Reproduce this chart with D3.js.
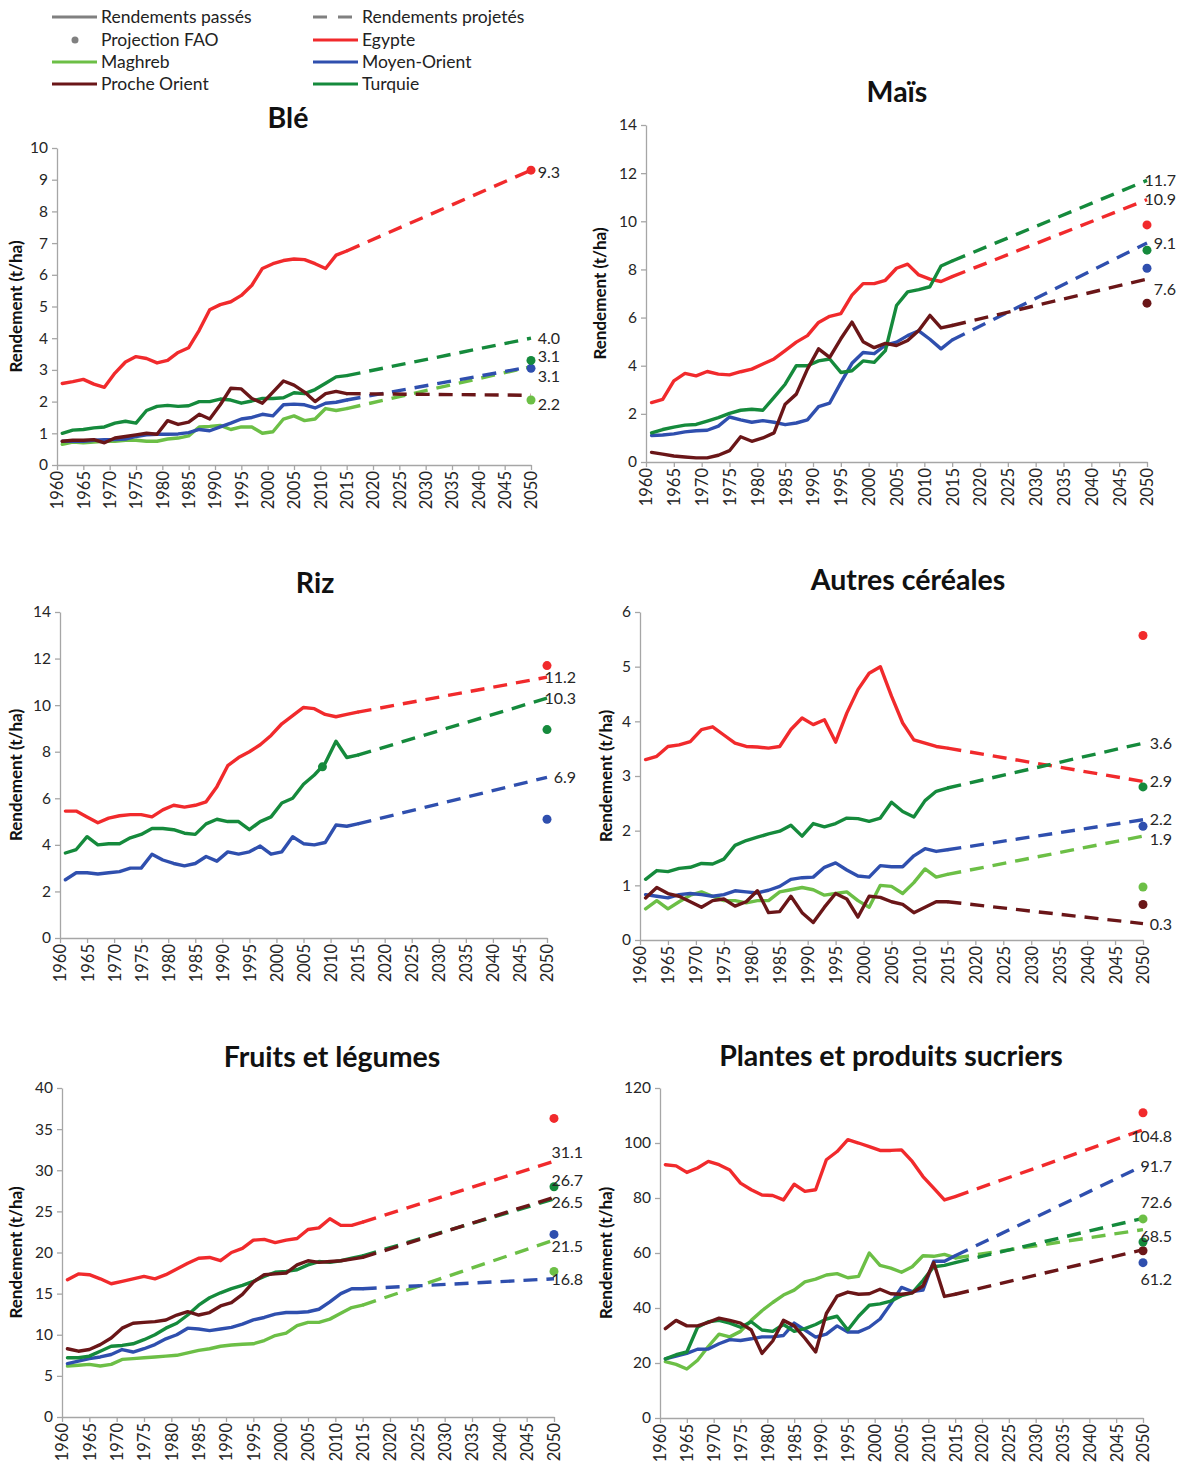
<!DOCTYPE html>
<html>
<head>
<meta charset="utf-8">
<script src="https://cdn.jsdelivr.net/npm/d3@7"></script>
<style>
  body { margin: 0; background: #fff; }
  svg text { font-family: Lato, "Open Sans", sans-serif; fill: #222; }
  .axis path, .axis line { stroke: #a6a6a6; stroke-width: 1.3; }
  .axis text { font-size: 15.5px; fill: #262626; }
  .x-axis text { font-size: 16.5px; }
  .panel-title { font-size: 28.5px; font-weight: 700; fill: #111; }
  .y-title { font-size: 17px; font-weight: 700; fill: #111; }
  .end-label { font-size: 16px; fill: #262626; }
  .legend text { font-size: 17.5px; fill: #222; }
</style>
</head>
<body>
<svg id="chart" width="1184" height="1468"></svg>
<script>
// regions, in the order used by every series array below
const regions = ['Egypte', 'Maghreb', 'Moyen-Orient', 'Proche Orient', 'Turquie'];
const regionColors = ['#f12a2c', '#6cbf46', '#2f4fae', '#6a1618', '#158a3c'];
const histYears = d3.range(1961, 2016, 2);
const projYear = 2050;
const yearTicks = d3.range(1960, 2051, 5);

// Blé
const bleTicks = [0, 1, 2, 3, 4, 5, 6, 7, 8, 9, 10];
const bleEgypte = [2.57, 2.63, 2.7, 2.55, 2.45, 2.9, 3.25, 3.42, 3.36, 3.22, 3.3, 3.55, 3.7, 4.25, 4.9, 5.06, 5.15, 5.35, 5.67, 6.2, 6.35, 6.45, 6.5, 6.48, 6.35, 6.2, 6.62, 6.75];
const bleMaghreb = [0.65, 0.72, 0.7, 0.72, 0.75, 0.75, 0.78, 0.78, 0.75, 0.75, 0.82, 0.85, 0.92, 1.2, 1.22, 1.25, 1.12, 1.2, 1.2, 1.0, 1.05, 1.45, 1.55, 1.4, 1.45, 1.78, 1.72, 1.78];
const bleMoyenOrient = [0.75, 0.75, 0.75, 0.78, 0.8, 0.8, 0.82, 0.9, 0.95, 0.97, 0.97, 0.98, 1.02, 1.12, 1.08, 1.2, 1.32, 1.45, 1.5, 1.6, 1.55, 1.9, 1.92, 1.9, 1.8, 1.95, 1.98, 2.05];
const bleProcheOrient = [0.75, 0.78, 0.78, 0.8, 0.7, 0.85, 0.9, 0.95, 1.0, 0.97, 1.4, 1.28, 1.35, 1.6, 1.45, 1.9, 2.42, 2.4, 2.1, 1.95, 2.3, 2.65, 2.52, 2.3, 2.0, 2.25, 2.32, 2.25];
const bleTurquie = [1.0, 1.1, 1.12, 1.17, 1.2, 1.32, 1.38, 1.32, 1.72, 1.85, 1.88, 1.85, 1.87, 2.0, 2.0, 2.08, 2.05, 1.95, 2.02, 2.1, 2.1, 2.12, 2.28, 2.25, 2.38, 2.58, 2.78, 2.82];
const bleProj = [9.3, 3.1, 3.1, 2.2, 4.0];
const bleFao = [9.3, 2.05, 3.05, null, 3.3];

// Maïs
const maisTicks = [0, 2, 4, 6, 8, 10, 12, 14];
const maisEgypte = [2.47, 2.6, 3.37, 3.68, 3.58, 3.76, 3.65, 3.62, 3.75, 3.86, 4.07, 4.28, 4.63, 4.98, 5.25, 5.8, 6.05, 6.16, 6.93, 7.41, 7.41, 7.55, 8.05, 8.22, 7.77, 7.6, 7.5, 7.7];
const maisMoyenOrient = [1.1, 1.12, 1.17, 1.25, 1.3, 1.32, 1.49, 1.87, 1.75, 1.65, 1.72, 1.65, 1.55, 1.62, 1.75, 2.3, 2.45, 3.3, 4.1, 4.55, 4.5, 4.85, 4.98, 5.25, 5.45, 5.1, 4.7, 5.07];
const maisProcheOrient = [0.4, 0.33, 0.25, 0.21, 0.17, 0.17, 0.28, 0.47, 1.05, 0.86, 1.0, 1.21, 2.4, 2.82, 3.86, 4.7, 4.35, 5.12, 5.81, 5.0, 4.75, 4.93, 4.84, 5.05, 5.46, 6.09, 5.57, 5.67];
const maisTurquie = [1.21, 1.35, 1.45, 1.53, 1.56, 1.7, 1.84, 2.02, 2.15, 2.19, 2.15, 2.68, 3.23, 4.0, 4.0, 4.2, 4.28, 3.72, 3.79, 4.2, 4.14, 4.63, 6.5, 7.07, 7.16, 7.28, 8.14, 8.35];
const maisProj = [10.9, null, 9.1, 7.6, 11.7];
const maisFao = [9.85, null, 8.05, 6.6, 8.8];

// Riz
const rizTicks = [0, 2, 4, 6, 8, 10, 12, 14];
const rizEgypte = [5.45, 5.45, 5.2, 4.95, 5.15, 5.25, 5.3, 5.3, 5.2, 5.5, 5.7, 5.62, 5.7, 5.85, 6.5, 7.4, 7.75, 8.0, 8.3, 8.7, 9.2, 9.55, 9.9, 9.85, 9.6, 9.5, 9.6, 9.7];
const rizMoyenOrient = [2.5, 2.8, 2.8, 2.75, 2.8, 2.85, 3.0, 3.0, 3.6, 3.35, 3.2, 3.1, 3.2, 3.5, 3.3, 3.7, 3.6, 3.7, 3.95, 3.6, 3.7, 4.35, 4.05, 4.0, 4.1, 4.85, 4.8, 4.9];
const rizTurquie = [3.65, 3.8, 4.35, 4.0, 4.05, 4.05, 4.3, 4.45, 4.7, 4.7, 4.65, 4.5, 4.45, 4.9, 5.1, 5.0, 5.0, 4.65, 5.0, 5.2, 5.8, 6.0, 6.6, 7.0, 7.5, 8.45, 7.75, 7.85];
const rizProj = [11.2, null, 6.9, null, 10.3];
const rizFao = [11.7, null, 5.1, null, 8.95];
const rizExtraDot = [2008.5, 7.35]; // Turquie marker on the past curve

// Autres céréales
const autresTicks = [0, 1, 2, 3, 4, 5, 6];
const autresEgypte = [3.3, 3.36, 3.54, 3.57, 3.63, 3.85, 3.9, 3.75, 3.6, 3.54, 3.53, 3.51, 3.54, 3.85, 4.06, 3.94, 4.03, 3.62, 4.15, 4.58, 4.88, 5.0, 4.46, 3.97, 3.66, 3.6, 3.54, 3.51];
const autresMaghreb = [0.57, 0.72, 0.57, 0.7, 0.82, 0.88, 0.8, 0.72, 0.72, 0.68, 0.72, 0.72, 0.88, 0.92, 0.96, 0.92, 0.82, 0.85, 0.88, 0.72, 0.6, 1.0, 0.98, 0.85, 1.05, 1.3, 1.15, 1.2];
const autresMoyenOrient = [0.83, 0.8, 0.77, 0.83, 0.85, 0.83, 0.8, 0.83, 0.9, 0.88, 0.86, 0.91, 0.98, 1.11, 1.14, 1.15, 1.33, 1.41, 1.28, 1.17, 1.15, 1.36, 1.34, 1.34, 1.54, 1.67, 1.62, 1.65];
const autresProcheOrient = [0.77, 0.96, 0.85, 0.8, 0.7, 0.6, 0.72, 0.75, 0.62, 0.7, 0.9, 0.5, 0.52, 0.8, 0.5, 0.32, 0.6, 0.85, 0.75, 0.42, 0.8, 0.78, 0.7, 0.65, 0.5, 0.6, 0.7, 0.7];
const autresTurquie = [1.11, 1.27, 1.25, 1.31, 1.33, 1.4, 1.39, 1.48, 1.73, 1.82, 1.88, 1.94, 1.99, 2.1, 1.9, 2.13, 2.07, 2.13, 2.23, 2.22, 2.17, 2.23, 2.52, 2.35, 2.25, 2.55, 2.72, 2.78];
const autresProj = [2.9, 1.9, 2.2, 0.3, 3.6];
const autresFao = [5.57, 0.97, 2.08, 0.65, 2.8];

// Fruits et légumes
const fruitsTicks = [0, 5, 10, 15, 20, 25, 30, 35, 40];
const fruitsEgypte = [16.7, 17.4, 17.3, 16.8, 16.2, 16.5, 16.8, 17.1, 16.8, 17.3, 18.0, 18.7, 19.3, 19.4, 19.0, 20.0, 20.5, 21.5, 21.6, 21.2, 21.5, 21.7, 22.8, 23.0, 24.1, 23.3, 23.3, 23.7];
const fruitsMaghreb = [6.2, 6.3, 6.4, 6.2, 6.4, 7.0, 7.1, 7.2, 7.3, 7.4, 7.5, 7.8, 8.1, 8.3, 8.6, 8.75, 8.85, 8.9, 9.3, 9.9, 10.2, 11.1, 11.5, 11.5, 11.9, 12.6, 13.3, 13.6];
const fruitsMoyenOrient = [6.5, 6.8, 7.1, 7.3, 7.6, 8.2, 7.9, 8.3, 8.8, 9.5, 10.0, 10.8, 10.7, 10.5, 10.7, 10.9, 11.3, 11.8, 12.1, 12.5, 12.7, 12.7, 12.8, 13.1, 14.0, 15.0, 15.6, 15.6];
const fruitsProcheOrient = [8.3, 8.0, 8.2, 8.8, 9.6, 10.8, 11.4, 11.5, 11.6, 11.8, 12.4, 12.8, 12.4, 12.7, 13.5, 13.9, 14.9, 16.4, 17.3, 17.4, 17.5, 18.5, 19.0, 18.8, 18.9, 19.0, 19.2, 19.4];
const fruitsTurquie = [7.2, 7.2, 7.4, 8.0, 8.6, 8.7, 8.9, 9.4, 10.0, 10.8, 11.4, 12.4, 13.6, 14.5, 15.1, 15.6, 16.0, 16.5, 17.1, 17.6, 17.7, 17.9, 18.5, 18.9, 18.8, 19.0, 19.3, 19.6];
const fruitsProj = [31.1, 21.5, 16.8, 26.7, 26.5];
const fruitsFao = [36.3, 17.7, 22.2, null, 28.0];

// Plantes et produits sucriers
const sucreTicks = [0, 20, 40, 60, 80, 100, 120];
const sucreEgypte = [92.1, 91.7, 89.3, 90.9, 93.3, 92.1, 90.2, 85.4, 83.0, 81.1, 80.9, 79.3, 85.0, 82.4, 83.0, 93.9, 96.9, 101.2, 100.0, 98.7, 97.3, 97.3, 97.5, 93.3, 87.8, 83.6, 79.3, 80.5];
const sucreMaghreb = [20.5, 19.5, 17.8, 21.0, 26.0, 30.5, 29.5, 31.5, 35.5, 39.0, 42.0, 44.7, 46.5, 49.5, 50.5, 52.0, 52.5, 51.0, 51.5, 60.0, 55.5, 54.5, 53.0, 55.0, 59.0, 58.8, 59.5, 58.2];
const sucreMoyenOrient = [21.5, 22.5, 23.5, 25.0, 25.1, 27.0, 28.5, 28.2, 28.8, 29.5, 29.5, 30.0, 34.5, 32.0, 29.4, 30.5, 33.5, 31.3, 31.3, 33.0, 36.0, 41.5, 47.5, 46.0, 46.5, 57.0, 57.0, 59.0];
const sucreProcheOrient = [32.5, 35.5, 33.5, 33.5, 34.8, 36.3, 35.5, 34.5, 32.0, 23.5, 28.0, 35.5, 33.5, 29.0, 24.0, 38.0, 44.3, 45.8, 45.0, 45.2, 46.8, 45.2, 45.0, 45.5, 48.0, 56.5, 44.2, 45.0];
const sucreTurquie = [21.5, 23.0, 24.0, 33.0, 35.0, 35.5, 34.5, 33.0, 35.0, 32.0, 31.5, 34.0, 31.5, 32.5, 34.0, 36.0, 37.0, 32.0, 37.0, 41.0, 41.5, 42.5, 44.5, 45.5, 50.0, 55.0, 55.5, 56.5];
const sucreProj = [104.8, 68.5, 91.7, 61.2, 72.6];
const sucreFao = [111.0, 72.4, 56.5, 60.8, 64.0];

const panels = [
  {title: 'Blé', ticks: bleTicks, series: [bleEgypte, bleMaghreb, bleMoyenOrient, bleProcheOrient, bleTurquie], proj: bleProj, fao: bleFao},
  {title: 'Maïs', ticks: maisTicks, series: [maisEgypte, null, maisMoyenOrient, maisProcheOrient, maisTurquie], proj: maisProj, fao: maisFao},
  {title: 'Riz', ticks: rizTicks, series: [rizEgypte, null, rizMoyenOrient, null, rizTurquie], proj: rizProj, fao: rizFao, extra: [{region: 4, pt: rizExtraDot}]},
  {title: 'Autres céréales', ticks: autresTicks, series: [autresEgypte, autresMaghreb, autresMoyenOrient, autresProcheOrient, autresTurquie], proj: autresProj, fao: autresFao},
  {title: 'Fruits et légumes', ticks: fruitsTicks, series: [fruitsEgypte, fruitsMaghreb, fruitsMoyenOrient, fruitsProcheOrient, fruitsTurquie], proj: fruitsProj, fao: fruitsFao},
  {title: 'Plantes et produits sucriers', ticks: sucreTicks, series: [sucreEgypte, sucreMaghreb, sucreMoyenOrient, sucreProcheOrient, sucreTurquie], proj: sucreProj, fao: sucreFao}
];

// page layout of each panel (pixels) and small vertical nudges of the end labels
const layouts = [
  {left: 57, right: 531, top: 148, bottom: 465, titleX: 288, titleY: 118, yTitleX: 16, labelDy: [2, 10, -10, 9, 0]},
  {left: 646, right: 1147, top: 125, bottom: 462, titleX: 897, titleY: 92, yTitleX: 600, labelDy: [0, 0, 0, 10, 0]},
  {left: 60, right: 547, top: 612, bottom: 938, titleX: 315, titleY: 583, yTitleX: 16, labelDy: [0, 0, 0, 0, 0]},
  {left: 640, right: 1143, top: 612, bottom: 940, titleX: 908, titleY: 580, yTitleX: 606, labelDy: [0, 3, 0, 1, 0]},
  {left: 62, right: 554, top: 1088, bottom: 1417, titleX: 332, titleY: 1057, yTitleX: 16, labelDy: [-9, 6, 1, -17, 3]},
  {left: 660, right: 1143, top: 1088, bottom: 1418, titleX: 891, titleY: 1056, yTitleX: 606, labelDy: [7, 7, 1, 30, -16]}
];

const drawOrder = [0, 1, 2, 4, 3];
const svg = d3.select('#chart');

function drawPanel(p, L) {
  const x = d3.scaleLinear().domain([1960, projYear]).range([L.left, L.right]);
  const y = d3.scaleLinear().domain([0, d3.max(p.ticks)]).range([L.bottom, L.top]);
  const g = svg.append('g');

  g.append('text').attr('class', 'panel-title')
    .attr('x', L.titleX).attr('y', L.titleY).attr('dy', '0.35em')
    .attr('text-anchor', 'middle').text(p.title);

  g.append('text').attr('class', 'y-title')
    .attr('transform', `translate(${L.yTitleX},${(L.top + L.bottom) / 2}) rotate(-90)`)
    .attr('text-anchor', 'middle').attr('dy', '0.35em')
    .text('Rendement (t/ha)');

  const xAxisG = g.append('g').attr('class', 'axis x-axis')
    .attr('transform', `translate(0,${L.bottom})`)
    .call(d3.axisBottom(x).tickValues(yearTicks).tickSize(5).tickSizeOuter(0).tickFormat(d3.format('d')));
  xAxisG.selectAll('text')
    .attr('transform', 'rotate(-90)')
    .attr('text-anchor', 'end')
    .attr('x', -6).attr('y', 0).attr('dy', '0.36em');

  g.append('g').attr('class', 'axis y-axis')
    .attr('transform', `translate(${L.left},0)`)
    .call(d3.axisLeft(y).tickValues(p.ticks).tickSize(5).tickSizeOuter(0).tickPadding(4).tickFormat(d3.format('d')));

  const line = d3.line().x((d, i) => x(histYears[i])).y(d => y(d));

  drawOrder.forEach(k => {
    const vals = p.series[k];
    if (!vals) return;
    const last = vals[vals.length - 1];
    g.append('line')
      .attr('x1', x(histYears[histYears.length - 1])).attr('y1', y(last))
      .attr('x2', x(projYear)).attr('y2', y(p.proj[k]))
      .attr('stroke', regionColors[k]).attr('stroke-width', 3.4)
      .attr('stroke-dasharray', '14,9');
    g.append('path').datum(vals)
      .attr('d', line)
      .attr('fill', 'none')
      .attr('stroke', regionColors[k]).attr('stroke-width', 3.4)
      .attr('stroke-linejoin', 'round').attr('stroke-linecap', 'round');
  });

  p.fao.forEach((v, k) => {
    if (v == null) return;
    g.append('circle').attr('cx', x(projYear)).attr('cy', y(v)).attr('r', 4.5).attr('fill', regionColors[k]);
  });
  (p.extra || []).forEach(e => {
    g.append('circle').attr('cx', x(e.pt[0])).attr('cy', y(e.pt[1])).attr('r', 4.5).attr('fill', regionColors[e.region]);
  });

  p.proj.forEach((v, k) => {
    if (v == null) return;
    g.append('text').attr('class', 'end-label')
      .attr('x', x(projYear) + 29).attr('y', y(v) + L.labelDy[k]).attr('dy', '0.35em')
      .attr('text-anchor', 'end').text(v.toFixed(1));
  });
}

panels.forEach((p, i) => drawPanel(p, layouts[i]));

// legend
const legendRows = [
  [{label: 'Rendements passés', kind: 'solid', color: '#808080'}, {label: 'Rendements projetés', kind: 'dash', color: '#808080'}],
  [{label: 'Projection FAO', kind: 'dot', color: '#808080'}, {label: regions[0], kind: 'solid', color: regionColors[0]}],
  [{label: regions[1], kind: 'solid', color: regionColors[1]}, {label: regions[2], kind: 'solid', color: regionColors[2]}],
  [{label: regions[3], kind: 'solid', color: regionColors[3]}, {label: regions[4], kind: 'solid', color: regionColors[4]}]
];
const legendCols = [52, 313];
const legendRowY = [17, 40, 62, 84];
const lg = svg.append('g').attr('class', 'legend');
legendRows.forEach((row, r) => {
  row.forEach((item, c) => {
    const x0 = legendCols[c], yy = legendRowY[r];
    if (item.kind === 'dot') {
      lg.append('circle').attr('cx', x0 + 23).attr('cy', yy).attr('r', 3.5).attr('fill', item.color);
    } else {
      lg.append('line').attr('x1', x0).attr('x2', x0 + 45).attr('y1', yy).attr('y2', yy)
        .attr('stroke', item.color).attr('stroke-width', 3.2)
        .attr('stroke-dasharray', item.kind === 'dash' ? '14,11' : null);
    }
    lg.append('text').attr('x', x0 + 49).attr('y', yy).attr('dy', '0.35em').text(item.label);
  });
});
</script>
</body>
</html>
